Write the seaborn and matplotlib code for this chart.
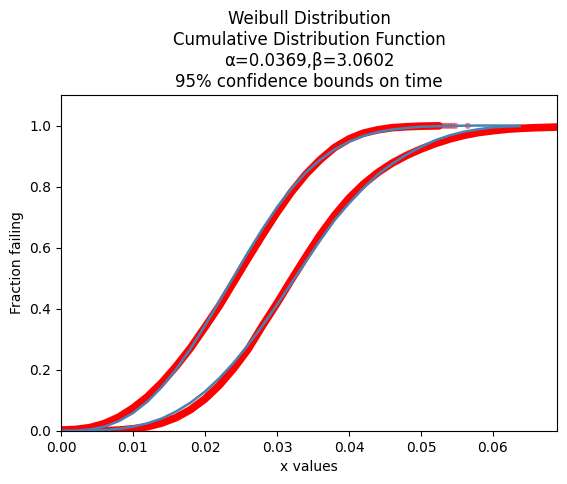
import numpy as np
import pandas as pd
import matplotlib
matplotlib.use('Agg')
import matplotlib.pyplot as plt
import seaborn as sns

# upper bound curve (left), blue line
upper_x = [0.0, 0.002, 0.004, 0.006, 0.008, 0.010, 0.012, 0.014, 0.016, 0.018,
           0.020, 0.022, 0.024, 0.026, 0.028, 0.030, 0.032, 0.034, 0.036, 0.038,
           0.040, 0.042, 0.044, 0.046, 0.048, 0.050, 0.054, 0.058, 0.0637]
upper_y = [0.0, 0.001, 0.005, 0.014, 0.032, 0.059, 0.096, 0.144, 0.202, 0.270,
           0.345, 0.424, 0.505, 0.586, 0.662, 0.732, 0.793, 0.846, 0.888, 0.922,
           0.947, 0.966, 0.979, 0.987, 0.992, 0.996, 0.999, 1.0, 1.0]

# lower bound curve (right), blue line
lower_x = [0.0, 0.004, 0.006, 0.008, 0.010, 0.012, 0.014, 0.016, 0.018, 0.020,
           0.022, 0.024, 0.026, 0.028, 0.030, 0.032, 0.034, 0.036, 0.038, 0.040,
           0.042, 0.044, 0.046, 0.048, 0.050, 0.052, 0.054, 0.056, 0.058, 0.060,
           0.062, 0.0637]
lower_y = [0.0, 0.001, 0.003, 0.007, 0.014, 0.025, 0.041, 0.064, 0.093, 0.129,
           0.173, 0.224, 0.282, 0.345, 0.413, 0.484, 0.555, 0.624, 0.690, 0.745,
           0.795, 0.840, 0.875, 0.905, 0.930, 0.952, 0.968, 0.980, 0.988, 0.994,
           0.997, 0.998]

# red sample bands
red_up_x = [0.0, 0.002, 0.004, 0.006, 0.008, 0.010, 0.012, 0.014, 0.016, 0.018,
            0.020, 0.022, 0.024, 0.026, 0.028, 0.030, 0.032, 0.034, 0.036, 0.038,
            0.040, 0.042, 0.044, 0.046, 0.048, 0.050, 0.0525]
red_up_y = [0.003, 0.005, 0.011, 0.024, 0.045, 0.075, 0.112, 0.158, 0.212, 0.272,
            0.340, 0.410, 0.488, 0.566, 0.642, 0.715, 0.782, 0.840, 0.888, 0.928,
            0.956, 0.975, 0.986, 0.993, 0.996, 0.998, 0.999]
red_lo_x = [0.0, 0.004, 0.006, 0.008, 0.010, 0.012, 0.014, 0.016, 0.018, 0.020,
            0.022, 0.024, 0.026, 0.028, 0.030, 0.032, 0.034, 0.036, 0.038, 0.040,
            0.042, 0.044, 0.046, 0.048, 0.050, 0.052, 0.054, 0.056, 0.058, 0.060,
            0.062, 0.064, 0.066, 0.0689]
red_lo_y = [0.001, 0.001, 0.001, 0.003, 0.007, 0.014, 0.026, 0.044, 0.070, 0.105,
            0.150, 0.205, 0.268, 0.345, 0.418, 0.495, 0.570, 0.642, 0.706, 0.762,
            0.808, 0.846, 0.877, 0.902, 0.923, 0.941, 0.956, 0.968, 0.977, 0.983,
            0.988, 0.991, 0.993, 0.995]
# loose points at the end of the upper band
sparse_x = [0.0528, 0.0532, 0.0536, 0.0540, 0.0544, 0.0548, 0.0565]
sparse_y = [0.999, 0.999, 0.999, 0.999, 0.999, 0.999, 0.999]

fig = plt.figure(figsize=(5.67, 4.84), dpi=100)
ax = fig.add_axes([61 / 567, 53 / 484, 496 / 567, 336 / 484])

band = dict(sort=False, color='red', lw=5.5, solid_capstyle='round', ax=ax)
sns.lineplot(x=red_up_x, y=red_up_y, **band)
sns.lineplot(x=red_lo_x, y=red_lo_y, **band)
sns.scatterplot(x=sparse_x, y=sparse_y, color='red', alpha=0.5, s=20,
                edgecolor='none', ax=ax)
sns.lineplot(x=upper_x, y=upper_y, sort=False, color='steelblue', lw=1.8, ax=ax)
sns.lineplot(x=lower_x, y=lower_y, sort=False, color='steelblue', lw=1.8, ax=ax)

ax.set_xlim(0, 0.0689)
ax.set_ylim(0, 1.1)
ax.set_xlabel('x values')
ax.set_ylabel('Fraction failing')
ax.set_title('Weibull Distribution\nCumulative Distribution Function\n'
             'α=0.0369,β=3.0602\n95% confidence bounds on time')

plt.savefig('out.png', dpi=100)
